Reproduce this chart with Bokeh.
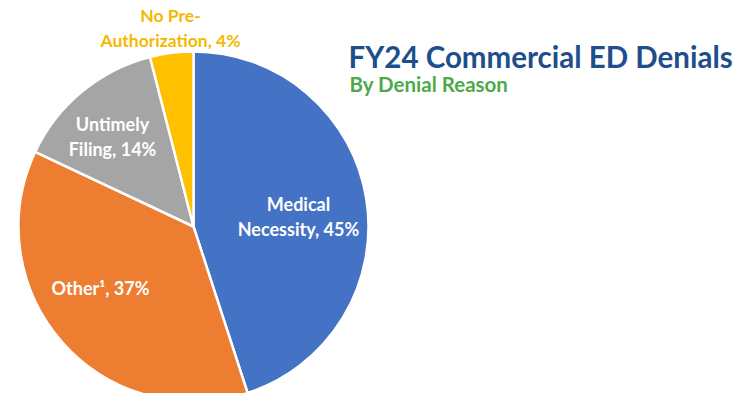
from bokeh.plotting import figure
from bokeh.models import Range1d, Label
from bokeh.core.properties import value
from bokeh.embed import file_html
from bokeh.resources import INLINE
import math

categories = ["Medical Necessity", "Other", "Untimely Filing", "No Pre-Authorization"]
shares = [45, 37, 14, 4]
label_lines = [["Medical", "Necessity, 45%"], ["Other\u00b9, 37%"], ["Untimely", "Filing, 14%"], ["No Pre-", "Authorization, 4%"]]
colors = ["#4472C4", "#ED7D31", "#A5A5A5", "#FFC000"]
label_colors = ["white", "white", "white", "#F5B800"]

title_text = "FY24 Commercial ED Denials"
subtitle_text = "By Denial Reason"

W, H = 747, 393
TOP = 401
p = figure(width=W, height=H, output_backend="svg", toolbar_location=None,
           x_range=Range1d(0, W), y_range=Range1d(TOP - H, TOP),
           min_border=0, outline_line_color=None, background_fill_color="white")
p.axis.visible = False
p.grid.visible = False

cx, cy, R = 193, TOP - 226, 175
total = float(sum(shares))
starts, ends = [], []
a = math.pi / 2
for s in shares:
    starts.append(a)
    a -= 2 * math.pi * s / total
    ends.append(a)

p.wedge(x=cx, y=cy, radius=R, start_angle=starts, end_angle=ends, direction="clock",
        fill_color=colors, line_color="white", line_width=2.5)

# label block centres (layout, in picture pixels from top-left)
label_pos = [(298, 216), (100, 287), (112, 136), (170, 27)]
font = value("Lato")
line_h = 25
for i, lines in enumerate(label_lines):
    lx, ly = label_pos[i][0], TOP - label_pos[i][1]
    n = len(lines)
    for j, t in enumerate(lines):
        yy = ly + (n - 1) * line_h / 2 - j * line_h
        p.text(x=[lx], y=[yy], text=[t], text_align="center", text_baseline="middle",
               text_font=font, text_font_style="bold",
               text_font_size="17.5px" if i == 3 else "18px",
               text_color=label_colors[i])

p.add_layout(Label(x=348, y=TOP - 56, text=title_text, text_font="Lato", text_font_style="bold",
                   text_font_size="29.5px", text_color="#1F4E8C", text_baseline="middle"))
p.add_layout(Label(x=349, y=TOP - 83, text=subtitle_text, text_font="Lato", text_font_style="bold",
                   text_font_size="20.5px", text_color="#4EA94A", text_baseline="middle"))

open("out.html", "w").write(file_html(p, INLINE))
